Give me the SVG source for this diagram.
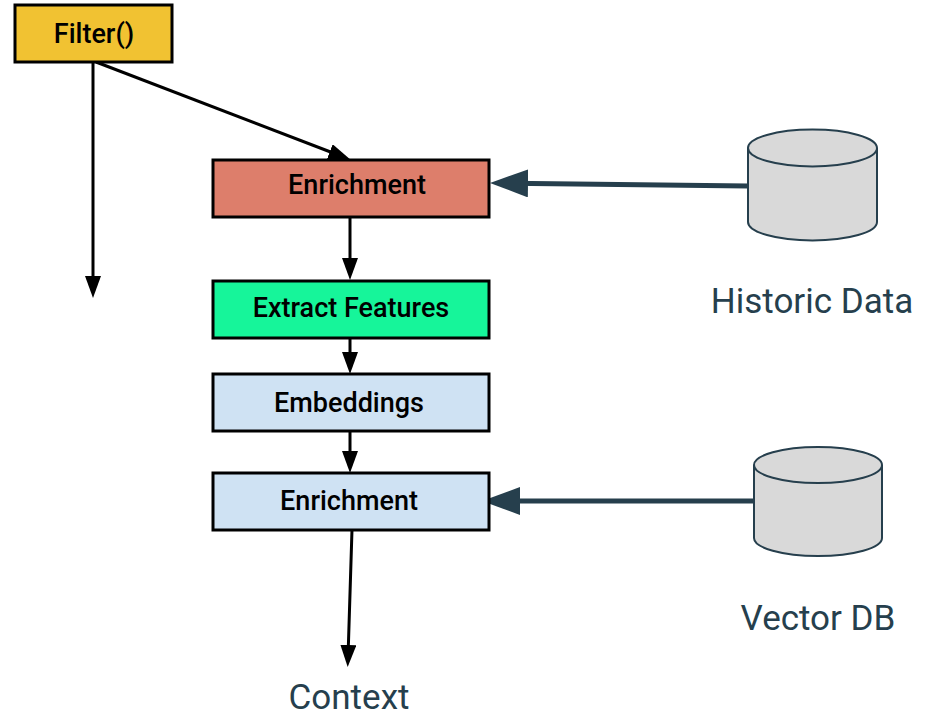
<svg xmlns="http://www.w3.org/2000/svg" width="928" height="720" viewBox="0 0 928 720">
<style>
.box{stroke:#000;stroke-width:3}
.lbl{font-family:Roboto,"Liberation Sans",sans-serif;font-weight:500;font-size:27px;fill:#000;text-anchor:middle}
.ext{font-family:Roboto,"Liberation Sans",sans-serif;font-size:35px;fill:#263f4d;text-anchor:middle}
.cyl{fill:#d9d9d9;stroke:#263f4d;stroke-width:2}
.blk{fill:none;stroke:#000;stroke-width:3}
.dk{fill:none;stroke:#263f4d;stroke-width:5}
</style>
<defs>
<marker id="ab" markerUnits="userSpaceOnUse" markerWidth="22" markerHeight="16" refX="12" refY="8" orient="auto"><path d="M0,0 L22,8 L0,16 Z" fill="#000"/></marker>
<marker id="ad" markerUnits="userSpaceOnUse" markerWidth="38" markerHeight="28" refX="18" refY="14" orient="auto"><path d="M0,0 L38,14 L0,28 Z" fill="#263f4d"/></marker>
</defs>
<g id="connectors">
<path class="blk" d="M93,62 L93,288" marker-end="url(#ab)"/>
<path class="blk" d="M96,62 L341,156" marker-end="url(#ab)"/>
<path class="blk" d="M350,217 L350,270" marker-end="url(#ab)"/>
<path class="blk" d="M350,338 L350,364" marker-end="url(#ab)"/>
<path class="blk" d="M350,431 L350,463" marker-end="url(#ab)"/>
<path class="blk" d="M352,530 L348,657" marker-end="url(#ab)"/>
<path class="dk" d="M748,186 L510,183.2" marker-end="url(#ad)"/>
<path class="dk" d="M754,501 L502,501" marker-end="url(#ad)"/>
</g>
<g id="filter"><rect class="box" x="15" y="5" width="157" height="57" fill="#f1c232"/><text class="lbl" x="94" y="43">Filter()</text></g>
<g id="enrichment1"><rect class="box" x="213" y="160" width="276" height="57" fill="#dd7e6b"/><text class="lbl" x="357" y="194">Enrichment</text></g>
<g id="extract"><rect class="box" x="213" y="281" width="276" height="57" fill="#16f59a"/><text class="lbl" x="351" y="317">Extract Features</text></g>
<g id="embeddings"><rect class="box" x="213" y="374" width="276" height="57" fill="#cfe2f3"/><text class="lbl" x="349" y="412">Embeddings</text></g>
<g id="enrichment2"><rect class="box" x="213" y="473" width="276" height="57" fill="#cfe2f3"/><text class="lbl" x="349" y="510">Enrichment</text></g>
<g id="historic">
<path class="cyl" d="M748,148 L748,222 A64.5,18.5 0 0 0 877,222 L877,148 A64.5,18.5 0 0 0 748,148 Z"/>
<path class="cyl" d="M748,148 A64.5,18.5 0 0 0 877,148" fill="none"/>
<text class="ext" x="812" y="313">Historic Data</text>
</g>
<g id="vectordb">
<path class="cyl" d="M754,465 L754,538 A64,18 0 0 0 882,538 L882,465 A64,18 0 0 0 754,465 Z"/>
<path class="cyl" d="M754,465 A64,18 0 0 0 882,465" fill="none"/>
<text class="ext" x="818" y="630">Vector DB</text>
</g>
<g id="context"><text class="ext" x="349" y="709">Context</text></g>
</svg>
